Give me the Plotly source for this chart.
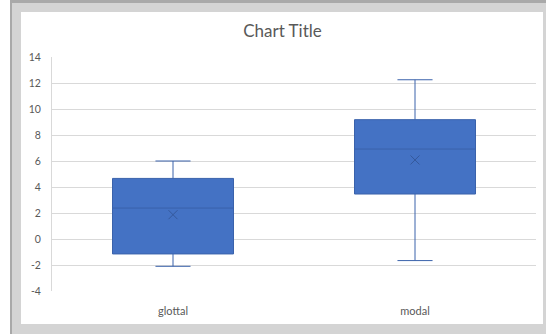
import plotly.graph_objects as go

# Box statistics per voice quality
categories = ["glottal", "modal"]
lower_whisker = [-2.1, -1.66]
q1_values = [-1.15, 3.46]
median_values = [2.38, 6.92]
q3_values = [4.66, 9.18]
upper_whisker = [6.0, 12.25]
mean_values = [1.87, 6.08]

y_ticks = [-4, -2, 0, 2, 4, 6, 8, 10, 12, 14]

W, H = 546, 334
ML, MR, MT, MB = 52, 10, 57, 43
PW = W - ML - MR
PH = H - MT - MB


def px_x(x):
    return (x - ML) / PW


def px_y(y):
    return (H - MB - y) / PH


FONT = "Lato, 'Open Sans', sans-serif"
BLUE = "#4472C4"
EDGE = "#3A62AB"
TEXT = "#595959"

fig = go.Figure()

fig.add_trace(go.Box(
    x=categories,
    q1=q1_values,
    median=median_values,
    q3=q3_values,
    lowerfence=lower_whisker,
    upperfence=upper_whisker,
    fillcolor=BLUE,
    line=dict(color=EDGE, width=1),
    width=0.5,
    whiskerwidth=0.29,
    boxpoints=False,
    showlegend=False,
    hoverinfo="skip",
))

fig.add_trace(go.Scatter(
    x=categories,
    y=mean_values,
    mode="markers",
    marker=dict(symbol="x-thin", size=9, line=dict(color="#35599C", width=1)),
    showlegend=False,
    hoverinfo="skip",
))

# Window frame around the chart
frame = [
    dict(x0=10, x1=W, y0=0, y1=H, color="#D4D4D4"),
    dict(x0=10, x1=W, y0=0, y1=3, color="#A9A9A9"),
    dict(x0=10, x1=12, y0=0, y1=H, color="#A9A9A9"),
    dict(x0=21, x1=543, y0=12, y1=324, color="#FFFFFF"),
]
for r in frame:
    fig.add_shape(
        type="rect", xref="paper", yref="paper",
        x0=px_x(r["x0"]), x1=px_x(r["x1"]),
        y0=px_y(r["y1"]), y1=px_y(r["y0"]),
        fillcolor=r["color"], line=dict(width=0), layer="below",
    )

fig.update_layout(
    width=W, height=H,
    margin=dict(l=ML, r=MR, t=MT, b=MB, pad=0),
    paper_bgcolor="white",
    plot_bgcolor="rgba(0,0,0,0)",
    title=dict(
        text="Chart Title",
        font=dict(family=FONT, size=17, color=TEXT),
        x=282.5 / W, xanchor="center",
        y=1 - 31.5 / H, yanchor="middle",
    ),
    font=dict(family=FONT, color=TEXT),
    xaxis=dict(
        type="category",
        range=[-0.5, 1.5],
        showgrid=False,
        showline=False,
        zeroline=False,
        ticks="",
        tickfont=dict(family=FONT, size=11, color=TEXT),
        ticklabelstandoff=12,
    ),
    yaxis=dict(
        range=[-4, 14],
        tickvals=y_ticks,
        ticktext=[str(v) for v in y_ticks],
        showgrid=True,
        gridcolor="#D9D9D9",
        gridwidth=1,
        zeroline=False,
        showline=True,
        linecolor="#D9D9D9",
        linewidth=1,
        ticks="",
        tickfont=dict(family=FONT, size=10.5, color=TEXT),
        ticklabelstandoff=8,
    ),
)

fig.write_html("out.html")
